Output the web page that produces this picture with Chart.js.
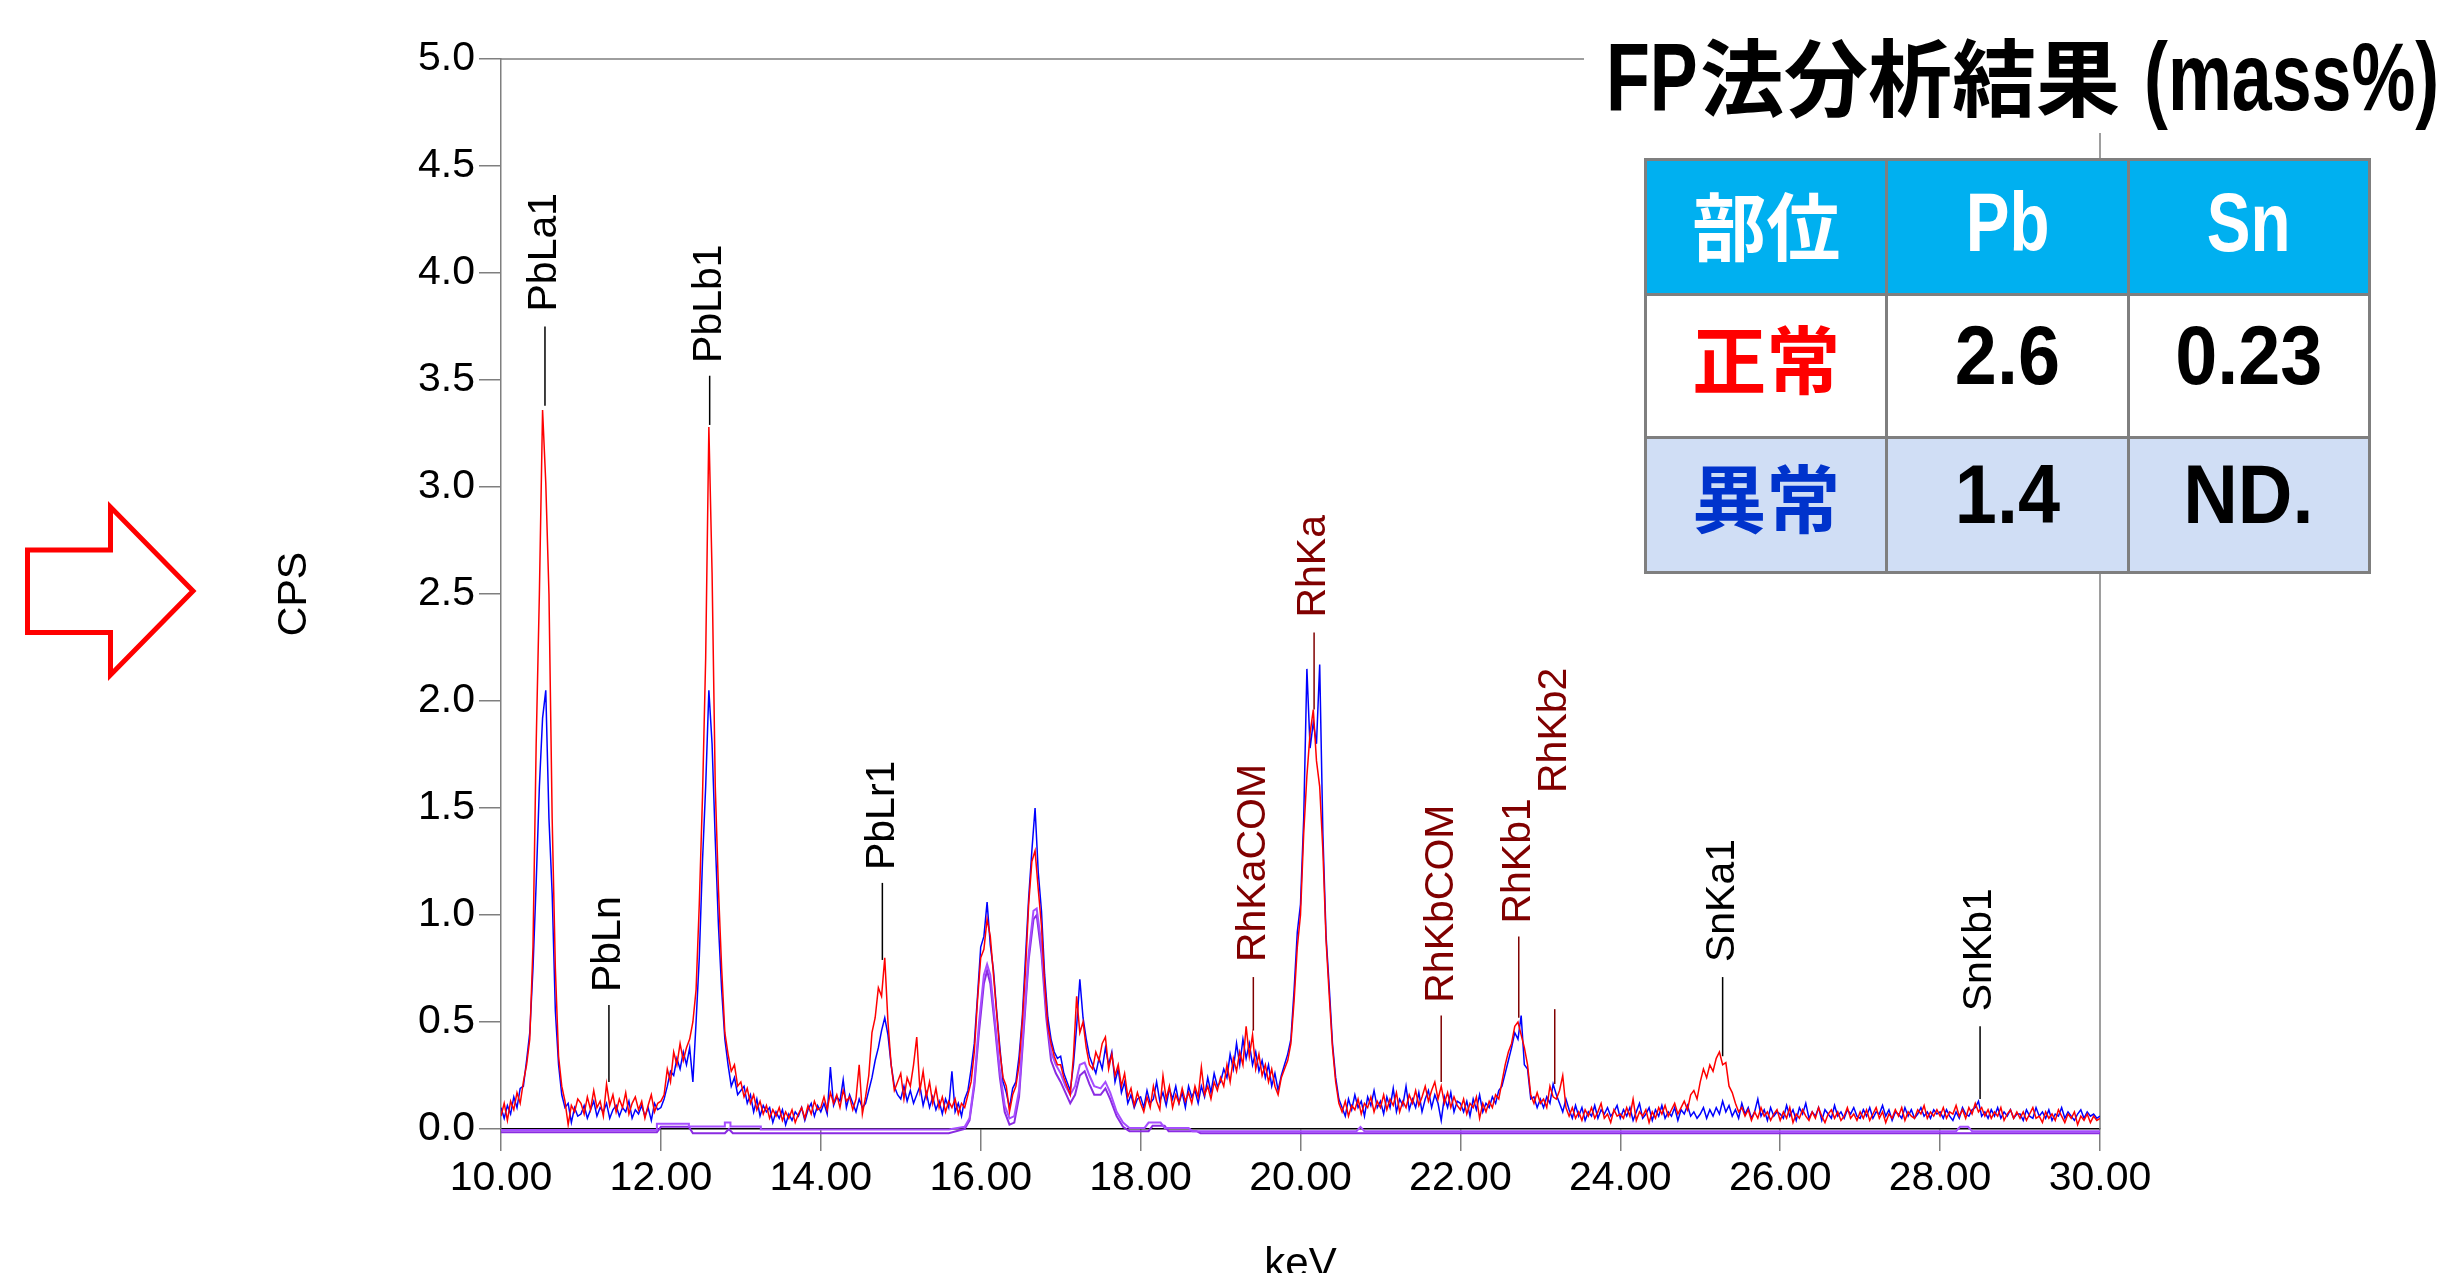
<!DOCTYPE html>
<html lang="ja">
<head>
<meta charset="utf-8">
<title>FP法分析結果</title>
<script src="https://cdn.jsdelivr.net/npm/chart.js@4.4.1/dist/chart.umd.min.js"></script>
<style>
  html, body { margin: 0; padding: 0; background: #fff; }
  #wrap { position: relative; width: 2458px; height: 1273px; overflow: hidden; }
  #spectrum { position: absolute; left: 0; top: 0; }
  #arrow { position: absolute; left: 0; top: 0; }
  .lat { font-family: "Liberation Sans", Arial, sans-serif; font-weight: bold; }
  .jp { font-family: "Noto Sans CJK JP", sans-serif; font-weight: bold; }
  /* the original uses a narrow face: squeeze the Latin text horizontally */
  .sq { display: inline-block; white-space: nowrap; }
  .sq .inner { display: inline-block; transform: scaleX(0.74); transform-origin: 0 50%; }
  #fpTitle { position: absolute; left: 1584px; top: 0; width: 874px; height: 133px; background: #fff; }
  #fpTitle .line { position: absolute; left: 22px; top: 26px; white-space: nowrap; line-height: 96px; }
  #fpTitle .lat { font-size: 97px; }
  #fpTitle .jp { font-size: 84px; }
  #fpTitle .paren { margin-left: 24px; }
  #fpTable { position: absolute; left: 1644px; top: 158px; width: 727px; height: 406px;
             border-collapse: collapse; table-layout: fixed; background: #fff; }
  #fpTable td { border: 3px solid #7f7f7f; text-align: center; vertical-align: middle; padding: 0; }
  #fpTable td span { display: inline-block; position: relative; top: -11px; }
  #fpTable td.lat { font-size: 84px; }
  #fpTable td.lat span { transform: scaleX(0.9); }
  #fpTable td.jp { font-size: 74px; }
  #fpTable tr.head td { background: #00b0f0; color: #fff; height: 132px; }
  #fpTable tr.head td span { top: -5px; }
  #fpTable tr.head td.lat span { transform: scaleX(0.78); }
  #fpTable tr.ok td { background: #fff; color: #000; height: 140px; }
  #fpTable tr.ng td { background: #d0def5; color: #000; height: 132px; }
</style>
</head>
<body>
<div id="wrap">
  <canvas id="spectrum" width="2458" height="1273"></canvas>
  <svg id="arrow" width="220" height="720">
    <polygon points="27.5,550 110.5,550 110.5,507 193,591 110.5,675 110.5,632.5 27.5,632.5"
             fill="#fff" stroke="#ff0000" stroke-width="5"/>
  </svg>
  <div id="fpTitle"><div class="line"><span class="sq" style="width:94px"><span class="lat inner">FP</span></span><span class="jp">法分析結果</span><span class="sq paren" style="width:294px"><span class="lat inner">(mass%)</span></span></div></div>
  <table id="fpTable"></table>
</div>
<script>
// energy axis of the spectra (keV), one entry per point
const energies = [
  10.00,10.04,10.08,10.12,10.16,10.20,10.24,10.28,10.32,10.36,10.40,10.44,10.48,10.52,10.56,10.60,10.64,10.68,10.72,10.76,10.80,10.84,10.88,10.92,10.96,
  11.00,11.04,11.08,11.12,11.16,11.20,11.24,11.28,11.32,11.36,11.40,11.44,11.48,11.52,11.56,11.60,11.64,11.68,11.72,11.76,11.80,11.84,11.88,11.92,11.96,
  12.00,12.04,12.08,12.12,12.16,12.20,12.24,12.28,12.32,12.36,12.40,12.44,12.48,12.52,12.56,12.60,12.64,12.68,12.72,12.76,12.80,12.84,12.88,12.92,12.96,
  13.00,13.04,13.08,13.12,13.16,13.20,13.24,13.28,13.32,13.36,13.40,13.44,13.48,13.52,13.56,13.60,13.64,13.68,13.72,13.76,13.80,13.84,13.88,13.92,13.96,
  14.00,14.04,14.08,14.12,14.16,14.20,14.24,14.28,14.32,14.36,14.40,14.44,14.48,14.52,14.56,14.60,14.64,14.68,14.72,14.76,14.80,14.84,14.88,14.92,14.96,
  15.00,15.04,15.08,15.12,15.16,15.20,15.24,15.28,15.32,15.36,15.40,15.44,15.48,15.52,15.56,15.60,15.64,15.68,15.72,15.76,15.80,15.84,15.88,15.92,15.96,
  16.00,16.04,16.08,16.12,16.16,16.20,16.24,16.28,16.32,16.36,16.40,16.44,16.48,16.52,16.56,16.60,16.64,16.68,16.72,16.76,16.80,16.84,16.88,16.92,16.96,
  17.00,17.04,17.08,17.12,17.16,17.20,17.24,17.28,17.32,17.36,17.40,17.44,17.48,17.52,17.56,17.60,17.64,17.68,17.72,17.76,17.80,17.84,17.88,17.92,17.96,
  18.00,18.04,18.08,18.12,18.16,18.20,18.24,18.28,18.32,18.36,18.40,18.44,18.48,18.52,18.56,18.60,18.64,18.68,18.72,18.76,18.80,18.84,18.88,18.92,18.96,
  19.00,19.04,19.08,19.12,19.16,19.20,19.24,19.28,19.32,19.36,19.40,19.44,19.48,19.52,19.56,19.60,19.64,19.68,19.72,19.76,19.80,19.84,19.88,19.92,19.96,
  20.00,20.04,20.08,20.12,20.16,20.20,20.24,20.28,20.32,20.36,20.40,20.44,20.48,20.52,20.56,20.60,20.64,20.68,20.72,20.76,20.80,20.84,20.88,20.92,20.96,
  21.00,21.04,21.08,21.12,21.16,21.20,21.24,21.28,21.32,21.36,21.40,21.44,21.48,21.52,21.56,21.60,21.64,21.68,21.72,21.76,21.80,21.84,21.88,21.92,21.96,
  22.00,22.04,22.08,22.12,22.16,22.20,22.24,22.28,22.32,22.36,22.40,22.44,22.48,22.52,22.56,22.60,22.64,22.68,22.72,22.76,22.80,22.84,22.88,22.92,22.96,
  23.00,23.04,23.08,23.12,23.16,23.20,23.24,23.28,23.32,23.36,23.40,23.44,23.48,23.52,23.56,23.60,23.64,23.68,23.72,23.76,23.80,23.84,23.88,23.92,23.96,
  24.00,24.04,24.08,24.12,24.16,24.20,24.24,24.28,24.32,24.36,24.40,24.44,24.48,24.52,24.56,24.60,24.64,24.68,24.72,24.76,24.80,24.84,24.88,24.92,24.96,
  25.00,25.04,25.08,25.12,25.16,25.20,25.24,25.28,25.32,25.36,25.40,25.44,25.48,25.52,25.56,25.60,25.64,25.68,25.72,25.76,25.80,25.84,25.88,25.92,25.96,
  26.00,26.04,26.08,26.12,26.16,26.20,26.24,26.28,26.32,26.36,26.40,26.44,26.48,26.52,26.56,26.60,26.64,26.68,26.72,26.76,26.80,26.84,26.88,26.92,26.96,
  27.00,27.04,27.08,27.12,27.16,27.20,27.24,27.28,27.32,27.36,27.40,27.44,27.48,27.52,27.56,27.60,27.64,27.68,27.72,27.76,27.80,27.84,27.88,27.92,27.96,
  28.00,28.04,28.08,28.12,28.16,28.20,28.24,28.28,28.32,28.36,28.40,28.44,28.48,28.52,28.56,28.60,28.64,28.68,28.72,28.76,28.80,28.84,28.88,28.92,28.96,
  29.00,29.04,29.08,29.12,29.16,29.20,29.24,29.28,29.32,29.36,29.40,29.44,29.48,29.52,29.56,29.60,29.64,29.68,29.72,29.76,29.80,29.84,29.88,29.92,29.96,
  30.00
];

// 正常 (normal part) spectrum, CPS - red trace
const normalCps = [
  0.06,0.12,0.04,0.13,0.09,0.17,0.12,0.22,0.30,0.42,0.85,1.80,2.50,3.36,3.02,2.50,1.45,0.75,0.34,0.20,0.13,0.02,0.11,0.08,0.14,
  0.12,0.07,0.15,0.09,0.18,0.10,0.13,0.06,0.21,0.11,0.16,0.08,0.14,0.10,0.17,0.07,0.12,0.15,0.09,0.13,0.05,0.11,0.16,0.08,0.12,
  0.13,0.16,0.28,0.22,0.36,0.30,0.40,0.32,0.38,0.42,0.50,0.65,1.05,1.55,2.20,3.28,2.60,1.60,1.12,0.75,0.45,0.35,0.27,0.30,0.20,
  0.22,0.15,0.19,0.12,0.16,0.09,0.13,0.07,0.11,0.05,0.09,0.06,0.10,0.04,0.08,0.05,0.09,0.03,0.07,0.10,0.05,0.11,0.07,0.13,0.09,
  0.10,0.15,0.09,0.17,0.12,0.16,0.10,0.18,0.13,0.15,0.09,0.14,0.30,0.07,0.15,0.25,0.45,0.52,0.66,0.62,0.80,0.50,0.30,0.18,0.22,
  0.26,0.14,0.24,0.20,0.30,0.43,0.18,0.27,0.15,0.22,0.12,0.19,0.10,0.15,0.08,0.13,0.10,0.14,0.07,0.12,0.10,0.16,0.22,0.36,0.60,
  0.80,0.84,0.98,0.90,0.72,0.54,0.36,0.24,0.20,0.08,0.16,0.20,0.30,0.50,0.74,1.05,1.25,1.30,1.12,0.95,0.68,0.48,0.40,0.34,0.30,
  0.30,0.24,0.20,0.16,0.34,0.62,0.45,0.50,0.38,0.30,0.28,0.36,0.32,0.40,0.43,0.28,0.35,0.25,0.30,0.20,0.26,0.15,0.19,0.11,0.17,
  0.12,0.08,0.15,0.10,0.20,0.13,0.09,0.25,0.14,0.20,0.10,0.16,0.12,0.19,0.13,0.17,0.12,0.20,0.15,0.29,0.16,0.20,0.14,0.22,0.18,
  0.24,0.20,0.30,0.22,0.33,0.27,0.36,0.30,0.48,0.34,0.44,0.28,0.35,0.25,0.30,0.22,0.28,0.20,0.16,0.24,0.28,0.32,0.40,0.60,0.85,
  1.00,1.38,1.65,1.85,1.96,1.72,1.60,1.30,0.88,0.62,0.38,0.22,0.12,0.08,0.13,0.06,0.11,0.09,0.14,0.07,0.12,0.10,0.15,0.08,0.13,
  0.10,0.16,0.09,0.14,0.11,0.17,0.08,0.13,0.10,0.16,0.12,0.18,0.11,0.15,0.20,0.13,0.18,0.22,0.14,0.20,0.12,0.17,0.10,0.15,0.11,
  0.09,0.14,0.07,0.12,0.10,0.15,0.05,0.12,0.08,0.13,0.10,0.16,0.14,0.22,0.30,0.36,0.40,0.48,0.50,0.44,0.38,0.30,0.16,0.12,0.17,
  0.12,0.14,0.10,0.20,0.15,0.14,0.18,0.25,0.10,0.06,0.10,0.05,0.08,0.04,0.09,0.06,0.10,0.05,0.08,0.12,0.05,0.07,0.03,0.09,0.06,
  0.07,0.05,0.10,0.06,0.14,0.04,0.08,0.06,0.09,0.03,0.08,0.05,0.10,0.07,0.11,0.06,0.09,0.12,0.07,0.10,0.13,0.09,0.16,0.18,0.14,
  0.22,0.28,0.24,0.30,0.27,0.33,0.36,0.30,0.31,0.20,0.17,0.12,0.08,0.10,0.06,0.09,0.04,0.08,0.05,0.10,0.06,0.08,0.04,0.07,0.09,
  0.04,0.08,0.05,0.10,0.03,0.07,0.05,0.09,0.06,0.04,0.08,0.05,0.10,0.06,0.03,0.07,0.09,0.05,0.08,0.04,0.06,0.10,0.05,0.07,0.04,
  0.08,0.05,0.09,0.04,0.07,0.10,0.05,0.08,0.03,0.07,0.05,0.09,0.06,0.10,0.04,0.08,0.06,0.05,0.09,0.07,0.11,0.05,0.08,0.06,0.09,
  0.06,0.10,0.05,0.08,0.07,0.11,0.06,0.09,0.05,0.10,0.07,0.12,0.08,0.10,0.06,0.09,0.05,0.08,0.06,0.10,0.04,0.07,0.09,0.05,0.08,
  0.05,0.08,0.04,0.07,0.10,0.05,0.06,0.03,0.08,0.05,0.07,0.04,0.09,0.06,0.03,0.07,0.05,0.08,0.02,0.06,0.04,0.07,0.03,0.06,0.04,
  0.05
];

// 異常 (abnormal part) spectrum, CPS - blue trace
const abnormalCps = [
  0.10,0.05,0.11,0.07,0.15,0.10,0.19,0.20,0.32,0.45,0.75,1.15,1.60,1.92,2.05,1.45,1.10,0.55,0.30,0.16,0.10,0.12,0.03,0.10,0.06,
  0.07,0.11,0.05,0.09,0.13,0.06,0.10,0.08,0.12,0.05,0.09,0.11,0.06,0.10,0.08,0.13,0.05,0.09,0.07,0.11,0.06,0.10,0.04,0.12,0.09,
  0.10,0.14,0.20,0.27,0.25,0.33,0.28,0.36,0.30,0.38,0.22,0.50,0.80,1.25,1.60,2.05,1.80,1.35,0.95,0.65,0.42,0.30,0.20,0.24,0.16,
  0.18,0.20,0.12,0.16,0.08,0.14,0.06,0.11,0.08,0.10,0.03,0.08,0.05,0.09,0.02,0.07,0.04,0.08,0.06,0.10,0.04,0.09,0.12,0.06,0.11,
  0.08,0.12,0.07,0.29,0.11,0.15,0.13,0.23,0.10,0.16,0.12,0.08,0.14,0.10,0.12,0.18,0.24,0.32,0.38,0.46,0.52,0.44,0.30,0.20,0.16,
  0.14,0.20,0.13,0.18,0.12,0.16,0.20,0.11,0.17,0.10,0.15,0.09,0.13,0.07,0.14,0.10,0.27,0.08,0.12,0.06,0.14,0.18,0.28,0.40,0.62,
  0.85,0.90,1.06,0.86,0.74,0.55,0.38,0.22,0.17,0.10,0.19,0.22,0.34,0.52,0.80,1.08,1.30,1.50,1.20,1.02,0.72,0.52,0.42,0.36,0.33,
  0.34,0.26,0.22,0.18,0.30,0.48,0.70,0.52,0.42,0.34,0.30,0.26,0.33,0.28,0.38,0.30,0.36,0.22,0.28,0.17,0.22,0.12,0.16,0.10,0.14,
  0.15,0.10,0.18,0.12,0.14,0.22,0.13,0.17,0.11,0.19,0.14,0.20,0.12,0.17,0.10,0.20,0.15,0.18,0.12,0.20,0.15,0.24,0.17,0.26,0.20,
  0.22,0.28,0.24,0.35,0.28,0.40,0.30,0.42,0.33,0.40,0.30,0.36,0.27,0.32,0.24,0.30,0.20,0.26,0.18,0.25,0.30,0.35,0.42,0.65,0.92,
  1.05,1.45,2.15,1.78,1.90,1.80,2.17,1.38,0.90,0.66,0.40,0.24,0.14,0.10,0.06,0.14,0.09,0.16,0.10,0.13,0.06,0.15,0.11,0.18,0.10,
  0.13,0.07,0.15,0.10,0.19,0.08,0.14,0.11,0.20,0.09,0.14,0.10,0.17,0.08,0.14,0.18,0.10,0.16,0.12,0.04,0.15,0.10,0.17,0.08,0.13,
  0.12,0.08,0.13,0.06,0.14,0.09,0.16,0.08,0.12,0.10,0.15,0.12,0.18,0.20,0.26,0.32,0.38,0.45,0.42,0.53,0.30,0.28,0.14,0.15,0.10,
  0.14,0.10,0.15,0.12,0.21,0.16,0.12,0.08,0.14,0.09,0.05,0.11,0.06,0.10,0.04,0.08,0.06,0.11,0.05,0.09,0.07,0.10,0.06,0.08,0.11,
  0.05,0.09,0.06,0.10,0.04,0.08,0.12,0.05,0.07,0.10,0.04,0.09,0.06,0.11,0.05,0.08,0.06,0.10,0.04,0.09,0.07,0.11,0.06,0.08,0.05,
  0.07,0.10,0.05,0.09,0.06,0.10,0.07,0.13,0.08,0.11,0.06,0.09,0.05,0.12,0.07,0.10,0.05,0.08,0.14,0.06,0.09,0.04,0.10,0.06,0.08,
  0.07,0.05,0.11,0.06,0.09,0.04,0.10,0.07,0.12,0.05,0.08,0.06,0.10,0.04,0.09,0.07,0.05,0.11,0.06,0.08,0.05,0.09,0.07,0.10,0.06,
  0.05,0.09,0.06,0.10,0.05,0.08,0.07,0.11,0.06,0.09,0.04,0.08,0.07,0.05,0.10,0.06,0.09,0.05,0.07,0.10,0.06,0.08,0.05,0.09,0.07,
  0.08,0.05,0.09,0.06,0.04,0.08,0.05,0.10,0.07,0.06,0.09,0.10,0.13,0.06,0.08,0.05,0.09,0.06,0.10,0.05,0.08,0.06,0.09,0.05,0.07,
  0.07,0.04,0.09,0.06,0.05,0.10,0.06,0.08,0.05,0.09,0.04,0.07,0.06,0.10,0.05,0.08,0.06,0.04,0.07,0.09,0.05,0.08,0.06,0.07,0.05,
  0.06
];

// fitted profile curves (purple), their own energy points
const fitAE = [10.00,11.95,11.95,12.35,12.35,12.80,12.80,12.87,12.87,13.25,13.25,15.60,15.80,15.86,15.92,15.98,16.04,16.08,16.12,16.18,
               16.24,16.30,16.36,16.42,16.48,16.54,16.60,16.66,16.70,16.76,16.82,16.88,16.94,17.00,17.06,17.12,17.18,17.24,17.30,17.36,
               17.42,17.50,17.56,17.62,17.70,17.78,17.86,18.05,18.10,18.25,18.30,18.60,18.65,20.70,20.75,20.80,28.20,28.25,28.35,28.40,30.00];
const fitAV = [-0.005,-0.005,0.025,0.025,0.012,0.012,0.03,0.03,0.012,0.012,-0.002,-0.002,0.01,0.05,0.22,0.50,0.72,0.77,0.72,0.50,
               0.27,0.11,0.05,0.06,0.18,0.50,0.82,1.02,1.03,0.86,0.56,0.36,0.30,0.26,0.20,0.16,0.20,0.30,0.31,0.25,
               0.20,0.19,0.22,0.17,0.08,0.03,0.005,0.005,0.03,0.03,0.005,0.005,-0.01,-0.01,0.01,-0.01,-0.01,0.01,0.01,-0.01,-0.01];
const fitBE = [10.00,11.95,12.00,12.35,12.40,12.80,12.85,12.90,15.60,15.80,15.86,15.92,15.98,16.04,16.08,16.12,16.18,16.24,16.30,16.36,
               16.42,16.48,16.54,16.60,16.66,16.70,16.76,16.82,16.88,16.94,17.00,17.06,17.12,17.18,17.24,17.30,17.36,17.42,17.50,17.56,
               17.62,17.70,17.78,17.86,18.10,18.15,18.30,18.35,18.70,18.75,30.00];
const fitBV = [-0.015,-0.015,0.01,0.01,-0.02,-0.02,0.0,-0.02,-0.02,0.0,0.04,0.20,0.46,0.68,0.74,0.68,0.47,0.24,0.08,0.02,
               0.03,0.15,0.47,0.79,0.98,1.00,0.82,0.52,0.32,0.26,0.22,0.17,0.12,0.16,0.25,0.27,0.21,0.16,0.16,0.19,
               0.14,0.06,0.01,-0.01,-0.01,0.015,0.015,-0.01,-0.01,-0.02,-0.02];

// peak identification markers (keV, and CPS heights of label start / marker line)
const peakNames    = ['PbLa1', 'PbLn', 'PbLb1', 'PbLr1', 'RhKaCOM', 'RhKa', 'RhKbCOM', 'RhKb1', 'RhKb2', 'SnKa1', 'SnKb1'];
const peakEnergies = [10.55, 11.35, 12.61, 14.77, 19.41, 20.17, 21.76, 22.73, 23.18, 25.28, 28.50];
const peakTextBase = [3.82, 0.64, 3.58, 1.21, 0.78, 2.39, 0.59, 0.96, 1.57, 0.78, 0.55];
const peakLineTop  = [3.75, 0.58, 3.52, 1.15, 0.71, 2.32, 0.53, 0.90, 0.56, 0.71, 0.48];
const peakLineEnd  = [3.38, 0.22, 3.29, 0.79, 0.46, 1.96, 0.22, 0.52, 0.21, 0.34, 0.14];

// FP method result table (mass%)
const tableHeads = ['部位', 'Pb', 'Sn'];
const partNames  = ['正常', '異常'];
const pbMass     = ['2.6', '1.4'];
const snMass     = ['0.23', 'ND.'];

if (energies.length !== normalCps.length || energies.length !== abnormalCps.length) {
  console.error('length mismatch', energies.length, normalCps.length, abnormalCps.length);
}

// build the result table
const table = document.getElementById('fpTable');
function addCell(row, text, isJp, colour) {
  const c = row.insertCell();
  c.className = isJp ? 'jp' : 'lat';
  const s = document.createElement('span');
  s.textContent = text;
  c.appendChild(s);
  if (colour) c.style.color = colour;
}
const headRow = table.insertRow();
headRow.className = 'head';
tableHeads.forEach((h, i) => addCell(headRow, h, i === 0));
partNames.forEach((p, r) => {
  const row = table.insertRow();
  row.className = r === 0 ? 'ok' : 'ng';
  addCell(row, p, true, r === 0 ? '#ff0000' : '#0033cc');
  addCell(row, pbMass[r], false);
  addCell(row, snMass[r], false);
});

const baseFont = '"Liberation Sans", Arial, sans-serif';

const peakLabels = {
  id: 'peakLabels',
  afterDatasetsDraw(chart) {
    const { ctx, scales: { x, y } } = chart;
    ctx.save();
    ctx.font = '41px ' + baseFont;
    peakNames.forEach((name, i) => {
      const colour = name.startsWith('Rh') ? '#800000' : '#000000';
      const px = x.getPixelForValue(peakEnergies[i]);
      ctx.strokeStyle = colour;
      ctx.lineWidth = 1.5;
      ctx.beginPath();
      ctx.moveTo(px, y.getPixelForValue(peakLineTop[i]));
      ctx.lineTo(px, y.getPixelForValue(peakLineEnd[i]));
      ctx.stroke();
      ctx.save();
      ctx.translate(px, y.getPixelForValue(peakTextBase[i]));
      ctx.rotate(-Math.PI / 2);
      ctx.fillStyle = colour;
      ctx.textAlign = 'left';
      ctx.textBaseline = 'middle';
      ctx.fillText(name, 0, 0);
      ctx.restore();
    });
    ctx.restore();
  }
};

// top/right frame lines and the two axis titles
const frameAndTitles = {
  id: 'frameAndTitles',
  beforeDatasetsDraw(chart) {
    const { ctx, chartArea: a } = chart;
    ctx.save();
    ctx.strokeStyle = '#7f7f7f';
    ctx.lineWidth = 1.5;
    ctx.beginPath();
    ctx.moveTo(a.left, a.top);
    ctx.lineTo(a.right, a.top);
    ctx.lineTo(a.right, a.bottom);
    ctx.stroke();
    ctx.restore();
  },
  afterDraw(chart) {
    const { ctx, chartArea: a } = chart;
    ctx.save();
    ctx.fillStyle = '#000';
    ctx.font = '41px ' + baseFont;
    ctx.textAlign = 'center';
    ctx.textBaseline = 'middle';
    ctx.translate(295, (a.top + a.bottom) / 2);
    ctx.rotate(-Math.PI / 2);
    ctx.fillText('CPS', 0, 0);
    ctx.restore();
    ctx.save();
    ctx.fillStyle = '#000';
    ctx.font = '42px ' + baseFont;
    ctx.textAlign = 'center';
    ctx.textBaseline = 'alphabetic';
    ctx.fillText('keV', (a.left + a.right) / 2, 1277);
    ctx.restore();
  }
};

const toPoints = (xs, ys) => xs.map((e, i) => ({ x: e, y: ys[i] }));

new Chart(document.getElementById('spectrum'), {
  type: 'line',
  data: {
    datasets: [
      { label: '正常', data: toPoints(energies, normalCps), borderColor: '#ff0000', borderWidth: 1.5, order: 0 },
      { label: '異常', data: toPoints(energies, abnormalCps), borderColor: '#0000ff', borderWidth: 1.5, order: 1 },
      { label: 'fit A', data: toPoints(fitAE, fitAV), borderColor: '#a64dff', borderWidth: 2, order: 2,
        clip: { left: 0, top: 0, right: 0, bottom: 8 } },
      { label: 'fit B', data: toPoints(fitBE, fitBV), borderColor: '#8a2be2', borderWidth: 2, order: 3,
        clip: { left: 0, top: 0, right: 0, bottom: 8 } }
    ]
  },
  options: {
    responsive: false,
    animation: false,
    events: [],
    layout: { padding: { left: 0, top: 59, right: 358, bottom: 0 } },
    elements: { point: { radius: 0 }, line: { tension: 0 } },
    plugins: { legend: { display: false }, tooltip: { enabled: false } },
    scales: {
      x: {
        type: 'linear',
        min: 10,
        max: 30,
        afterFit: (s) => { s.height = 144; },
        border: { display: true, color: '#000', width: 1.5 },
        grid: { drawOnChartArea: false, drawTicks: true, tickLength: 22, color: '#7f7f7f', lineWidth: 1.5 },
        ticks: {
          stepSize: 2, padding: 3, color: '#000', maxRotation: 0, autoSkip: false,
          font: { family: baseFont, size: 41 },
          callback: (v) => Number(v).toFixed(2)
        }
      },
      y: {
        min: 0,
        max: 5,
        afterFit: (s) => { s.width = 501; },
        border: { display: true, color: '#7f7f7f', width: 1.5 },
        grid: { drawOnChartArea: false, drawTicks: true, tickLength: 22, color: '#7f7f7f', lineWidth: 1.5 },
        ticks: {
          stepSize: 0.5, padding: 4, color: '#000',
          font: { family: baseFont, size: 41 },
          callback: (v) => Number(v).toFixed(1)
        }
      }
    }
  },
  plugins: [frameAndTitles, peakLabels]
});
</script>
</body>
</html>
